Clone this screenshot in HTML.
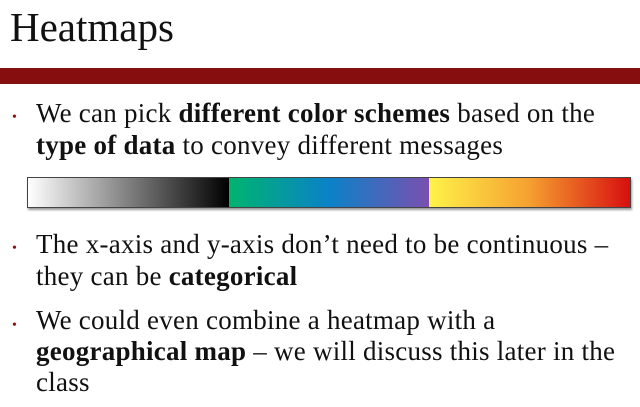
<!DOCTYPE html>
<html><head><meta charset="utf-8"><style>
body{margin:0;width:640px;height:407px;background:#fff;overflow:hidden;position:relative;font-family:"Liberation Serif",serif;color:#111}
.a{position:absolute}
.t{position:absolute;left:36px;font-size:27px;line-height:32px;white-space:nowrap;letter-spacing:0.25px}
.b{position:absolute;left:12px;font-size:14px;color:#8b1010}
</style></head><body>
<div class="a" style="left:10px;top:3px;font-size:41px;letter-spacing:0px">Heatmaps</div>
<div class="a" style="left:0;top:68px;width:640px;height:16px;background:#860e0e"></div>
<div class="b" style="top:110px">•</div>
<div class="t" style="top:97px">We can pick <b>different color schemes</b> based on the<br><b>type of data</b> to convey different messages</div>
<div class="a" style="left:27px;top:177px;width:602px;height:29px;border:1px solid #444;display:flex;box-shadow:1px 2px 2px #999">
<div style="flex:1;background:linear-gradient(90deg,#fff,#000)"></div>
<div style="flex:1;background:linear-gradient(90deg,#00b46e,#0a82c8,#7a4fb0)"></div>
<div style="flex:1;background:linear-gradient(90deg,#fff24a,#f5a030,#d70f0f)"></div>
</div>
<div class="b" style="top:241px">•</div>
<div class="t" style="top:228px">The x-axis and y-axis don’t need to be continuous –<br>they can be <b>categorical</b></div>
<div class="b" style="top:318px">•</div>
<div class="t" style="top:305px;line-height:31px">We could even combine a heatmap with a<br><b>geographical map</b> – we will discuss this later in the<br>class</div>
</body></html>
